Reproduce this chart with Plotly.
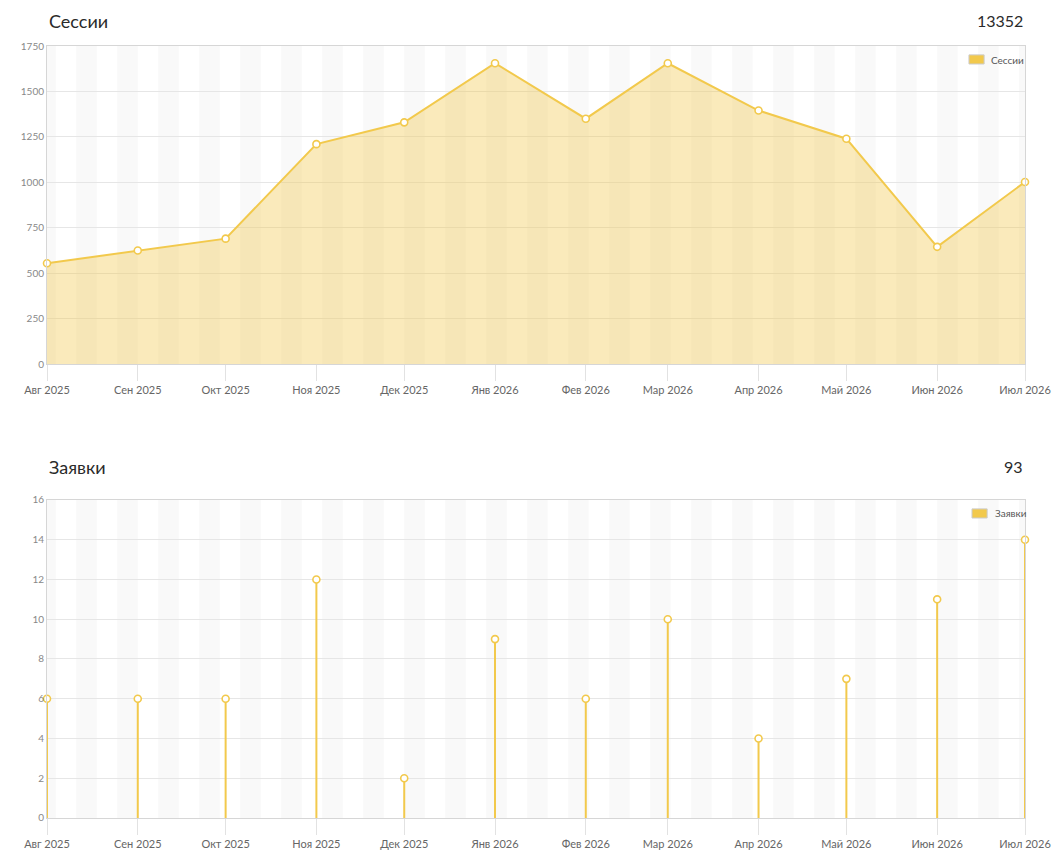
import datetime as dt
import plotly.graph_objects as go
from plotly.subplots import make_subplots

# Monthly data
months = ["2025-08-01", "2025-09-01", "2025-10-01", "2025-11-01", "2025-12-01", "2026-01-01",
          "2026-02-01", "2026-03-01", "2026-04-01", "2026-05-01", "2026-06-01", "2026-07-01"]
month_labels = ["Авг 2025", "Сен 2025", "Окт 2025", "Ноя 2025", "Дек 2025", "Янв 2026",
                "Фев 2026", "Мар 2026", "Апр 2026", "Май 2026", "Июн 2026", "Июл 2026"]
sessions = [555, 625, 690, 1210, 1330, 1655, 1350, 1655, 1395, 1240, 645, 1002]
requests = [6, 6, 6, 12, 2, 9, 6, 10, 4, 7, 11, 14]

YELLOW = "#f2c94c"
FONT = "Lato"

fig = make_subplots(rows=2, cols=1)

# Sessions: area chart
fig.add_trace(go.Scatter(
    x=months, y=sessions, mode="lines+markers", fill="tozeroy", name="Сессии",
    line=dict(color=YELLOW, width=2),
    fillcolor="rgba(242,201,76,0.38)",
    marker=dict(size=7, color="white", line=dict(color=YELLOW, width=1.6)),
    cliponaxis=False, showlegend=False
), row=1, col=1)

# Requests: stems with markers
fig.add_trace(go.Scatter(
    x=months, y=requests, mode="markers", name="Заявки",
    error_y=dict(type="data", symmetric=False, array=[0] * len(requests),
                 arrayminus=requests, thickness=2, width=0, color=YELLOW),
    marker=dict(size=7, color="white", line=dict(color=YELLOW, width=1.6)),
    cliponaxis=False, showlegend=False
), row=2, col=1)

# weekly background stripes
shapes = []
start = dt.date(2025, 7, 28)
end = dt.date(2026, 7, 1)
d = start
while d < end:
    d2 = d + dt.timedelta(days=7)
    s0 = max(d, dt.date(2025, 8, 1))
    s1 = min(d2, end)
    for xr, yr in (("x", "y domain"), ("x2", "y2 domain")):
        shapes.append(dict(type="rect", xref=xr, yref=yr, x0=str(s0), x1=str(s1), y0=0, y1=1,
                           fillcolor="#f9f9f9", line=dict(width=0), layer="below"))
    d += dt.timedelta(days=14)

# legend boxes (chart.js style)
annotations = []
for name, sx0, sy0, ty in (("Сессии", 0.9427, 0.9767, 0.9819), ("Заявки", 0.9458, 0.3886, 0.3947)):
    shapes.append(dict(type="rect", xref="paper", yref="paper", x0=sx0, x1=sx0 + 0.0155,
                       y0=sy0, y1=sy0 + 0.0118, fillcolor=YELLOW,
                       line=dict(color="#cccccc", width=1), layer="above"))
    annotations.append(dict(text=name, x=sx0 + 0.021, y=ty, xref="paper", yref="paper",
                            xanchor="left", yanchor="middle", showarrow=False,
                            font=dict(family=FONT, size=10, color="#555")))

xaxis_style = dict(
    type="date", range=[months[0], months[-1]], tickvals=months, ticktext=month_labels,
    showgrid=False, showline=True, mirror=True, linecolor="#d6d6d6", linewidth=1,
    ticks="outside", ticklen=16, tickcolor="#e2e2e2", tickwidth=1, automargin=False,
    tickfont=dict(family=FONT, size=11, color="#666"), zeroline=False
)
fig.update_xaxes(**xaxis_style)

fig.update_yaxes(showgrid=True, gridcolor="#e6e6e6", gridwidth=1, zeroline=False,
                 showline=True, mirror=True, linecolor="#d6d6d6", ticks="", automargin=False,
                 tickfont=dict(family=FONT, size=10, color="#888"))
fig.update_yaxes(range=[0, 1750], dtick=250, domain=[0.588, 1.0], row=1, col=1)
fig.update_yaxes(range=[0, 16], dtick=2, domain=[0.0, 0.412], row=2, col=1)

annotations += [
    dict(text="Сессии", x=0, y=1.0324, xref="paper", yref="paper", xanchor="left",
         yanchor="middle", showarrow=False, font=dict(family=FONT, size=18, color="#2a2a2a")),
    dict(text=str(sum(sessions)), x=1, y=1.0324, xref="paper", yref="paper", xanchor="right",
         yanchor="middle", showarrow=False, font=dict(family=FONT, size=16, color="#2a2a2a")),
    dict(text="Заявки", x=0, y=0.4547, xref="paper", yref="paper", xanchor="left",
         yanchor="middle", showarrow=False, font=dict(family=FONT, size=18, color="#2a2a2a")),
    dict(text=str(sum(requests)), x=1, y=0.4547, xref="paper", yref="paper", xanchor="right",
         yanchor="middle", showarrow=False, font=dict(family=FONT, size=16, color="#2a2a2a")),
]

fig.update_layout(
    width=1044, height=847,
    margin=dict(l=39, r=27, t=38, b=37),
    paper_bgcolor="white", plot_bgcolor="white",
    showlegend=False,
    shapes=shapes,
    annotations=annotations,
)

fig.write_html("out.html")
